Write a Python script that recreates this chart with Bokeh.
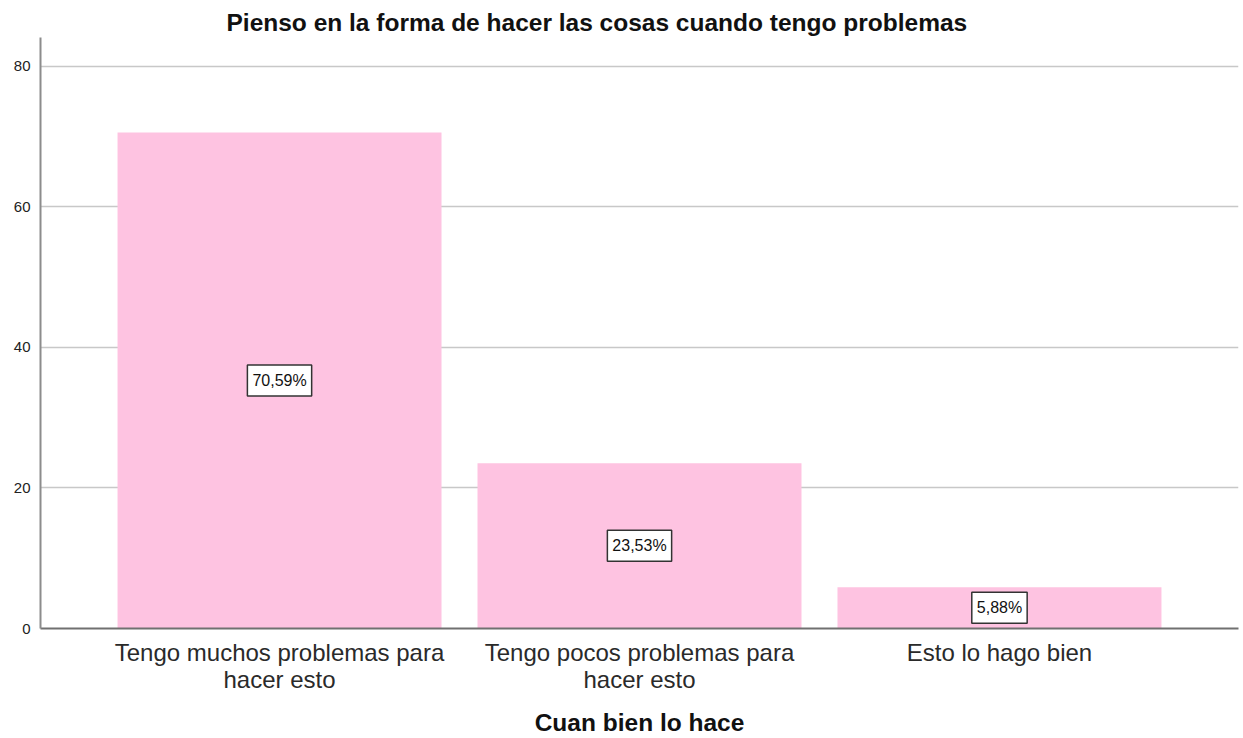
from bokeh.plotting import figure
from bokeh.models import FactorRange, Range1d, FixedTicker, Label
from bokeh.embed import file_html
from bokeh.resources import INLINE

categories = ["Tengo muchos problemas para\nhacer esto",
              "Tengo pocos problemas para\nhacer esto",
              "Esto lo hago bien"]
percent_values = [70.59, 23.53, 5.88]
percent_labels = ["70,59%", "23,53%", "5,88%"]
y_ticks = [0, 20, 40, 60, 80]

title_text = "Pienso en la forma de hacer las cosas cuando tengo problemas"
x_title = "Cuan bien lo hace"

x_range = FactorRange(factors=categories, range_padding=0.164, range_padding_units="absolute")

p = figure(x_range=x_range, y_range=Range1d(0, 84.1), width=1240, height=738,
           output_backend="svg", toolbar_location=None,
           min_border_left=40, min_border_right=2, min_border_top=37, min_border_bottom=110)

p.vbar(x=categories, top=percent_values, width=0.9, fill_color="#fec3e1", line_color=None)

p.background_fill_color = "white"
p.border_fill_color = "white"
p.outline_line_color = None

p.title.text = title_text
p.title.align = "left"
p.title.offset = 186
p.title.text_font = "Liberation Sans"
p.title.text_font_style = "bold"
p.title.text_font_size = "24.5px"
p.title.text_color = "#111111"
p.title.vertical_align = "bottom"
p.title.standoff = 4

p.xgrid.grid_line_color = None
p.ygrid.grid_line_color = "#c8c8c8"
p.ygrid.grid_line_width = 1.5
p.yaxis.ticker = FixedTicker(ticks=y_ticks)

for ax in (p.xaxis, p.yaxis):
    ax.major_tick_line_color = None
    ax.minor_tick_line_color = None
    ax.major_tick_out = 0
    ax.major_tick_in = 0

p.yaxis.axis_line_color = "#8c8c8c"
p.yaxis.axis_line_width = 2
p.xaxis.axis_line_color = "#707070"
p.xaxis.axis_line_width = 2

p.yaxis.major_label_text_font = "Liberation Sans"
p.yaxis.major_label_text_font_size = "15px"
p.yaxis.major_label_text_color = "#222222"
p.yaxis.major_label_standoff = 10

p.xaxis.major_label_text_font = "Liberation Sans"
p.xaxis.major_label_text_font_size = "24px"
p.xaxis.major_label_text_color = "#2a2a2a"
p.xaxis.major_label_text_line_height = 1.0
p.xaxis.major_label_standoff = 10
p.xaxis.major_label_orientation = "horizontal"

p.xaxis.axis_label = x_title
p.xaxis.axis_label_text_font = "Liberation Sans"
p.xaxis.axis_label_text_font_style = "bold"
p.xaxis.axis_label_text_font_size = "24.5px"
p.xaxis.axis_label_text_color = "#111111"
p.xaxis.axis_label_standoff = 13

# category centres in the factor range's synthetic coordinates
for i, (v, lab) in enumerate(zip(percent_values, percent_labels)):
    p.add_layout(Label(x=i + 0.5, y=v / 2, text=lab, text_align="center", text_baseline="middle",
                       text_font="Liberation Sans", text_font_size="16px", text_color="#111111",
                       background_fill_color="white", border_line_color="#333333",
                       border_line_width=1.5,
                       padding=dict(left=5, right=5, top=7, bottom=7)))

open("out.html", "w").write(file_html(p, INLINE))
